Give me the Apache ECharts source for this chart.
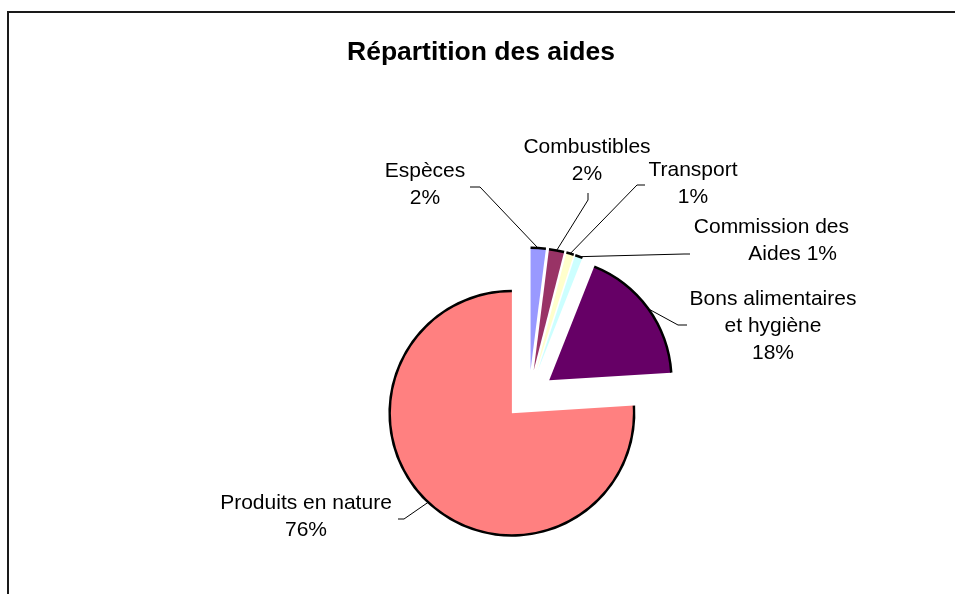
<!DOCTYPE html>
<html>
<head>
<meta charset="utf-8">
<title>Répartition des aides</title>
<script src="https://cdn.jsdelivr.net/npm/echarts@6/dist/echarts.min.js"></script>
<style>
  html, body { margin: 0; padding: 0; background: #fff; }
  #chart { width: 955px; height: 594px; }
</style>
</head>
<body>
<div id="chart"></div>
<script>
const categories = ['Espèces', 'Combustibles', 'Transport', 'Commission des\nAides', 'Bons alimentaires\net hygiène', 'Produits en nature'];
const shares = [2, 2, 1, 1, 18, 76];
const labelJoin = ['\n', '\n', '\n', ' ', '\n', '\n'];
const sliceColors = ['#9999FF', '#993366', '#FFFFCC', '#CCFFFF', '#660066', '#FF8080'];

// pie geometry (px)
const CENTER = [529, 395];
const RADIUS = 122;
const EXPLODE = 25;

// where each label sits, and where its leader line bends and ends
const labelSpots = [
  { x: 425, y: 185, align: 'center', bend: [480, 187], end: [470, 187] },
  { x: 587, y: 161, align: 'center', bend: [588, 200], end: [588, 193] },
  { x: 693, y: 184, align: 'center', bend: [637, 185], end: [645, 185] },
  { x: 849, y: 241, align: 'right', bend: [684, 254], end: [690, 254] },
  { x: 773, y: 326, align: 'center', bend: [678, 325], end: [687, 325] },
  { x: 306, y: 517, align: 'center', bend: [404, 519], end: [398, 519] }
];

const total = shares.reduce((a, b) => a + b, 0);
const midAngles = [];
let acc = 0;
shares.forEach((v) => {
  midAngles.push(((acc + v / 2) / total) * 2 * Math.PI);
  acc += v;
});

// point on the exploded slice's arc, at its middle angle
function arcPoint(i) {
  const a = midAngles[i];
  const r = RADIUS + EXPLODE;
  return [CENTER[0] + r * Math.sin(a), CENTER[1] - r * Math.cos(a)];
}

const chart = echarts.init(document.getElementById('chart'));

const basePie = {
  type: 'pie',
  center: CENTER,
  startAngle: 90,
  clockwise: true,
  silent: true,
  animation: false,
  emphasis: { disabled: true }
};

const option = {
  animation: false,
  backgroundColor: '#fff',
  title: {
    text: 'Répartition des aides',
    left: 342,
    top: 34,
    textStyle: {
      fontFamily: 'Liberation Sans',
      fontSize: 26.5,
      fontWeight: 'bold',
      color: '#000'
    }
  },
  graphic: [
    {
      type: 'rect',
      silent: true,
      z: -10,
      shape: { x: 8, y: 12, width: 1100, height: 800 },
      style: { fill: 'none', stroke: '#1a1a1a', lineWidth: 2 }
    }
  ],
  series: [
    {
      ...basePie,
      radius: [0, RADIUS],
      selectedMode: 'multiple',
      selectedOffset: EXPLODE,
      label: { show: false },
      labelLine: { show: false },
      itemStyle: { borderWidth: 0 },
      data: shares.map((v, i) => ({
        name: categories[i],
        value: v,
        selected: true,
        itemStyle: { color: sliceColors[i] }
      }))
    },
    {
      // dark rim along each slice's arc
      ...basePie,
      radius: [RADIUS - 1, RADIUS + 1.5],
      selectedMode: 'multiple',
      selectedOffset: EXPLODE,
      label: { show: false },
      labelLine: { show: false },
      itemStyle: { color: '#000', borderWidth: 0 },
      data: shares.map((v, i) => ({ name: categories[i], value: v, selected: true }))
    },
    {
      // labels with leader lines
      ...basePie,
      radius: [0, RADIUS],
      itemStyle: { color: 'rgba(0,0,0,0)', borderWidth: 0 },
      label: {
        show: true,
        color: '#000',
        fontFamily: 'Liberation Sans',
        fontSize: 21,
        lineHeight: 27,
        formatter: (p) => {
          const parts = (p.name + labelJoin[p.dataIndex] + p.value + '%').split('\n');
          // the reference sets the last line of "Commission des Aides" a little in
          return parts.map((t, k) => (k === parts.length - 1 && p.dataIndex === 3 ? '{tail|' + t + '}' : '{txt|' + t + '}')).join('\n');
        },
        rich: {
          txt: { fontFamily: 'Liberation Sans', fontSize: 21, lineHeight: 27, color: '#000' },
          tail: { fontFamily: 'Liberation Sans', fontSize: 21, lineHeight: 27, color: '#000', padding: [0, 12, 0, 0] }
        }
      },
      labelLine: {
        show: true,
        lineStyle: { color: '#000', width: 1 }
      },
      labelLayout: (params) => {
        const s = labelSpots[params.dataIndex];
        return {
          x: s.x,
          y: s.y,
          align: s.align,
          verticalAlign: 'middle',
          labelLinePoints: [arcPoint(params.dataIndex), s.bend, s.end]
        };
      },
      data: shares.map((v, i) => ({ name: categories[i], value: v }))
    }
  ]
};

chart.setOption(option);
</script>
</body>
</html>
